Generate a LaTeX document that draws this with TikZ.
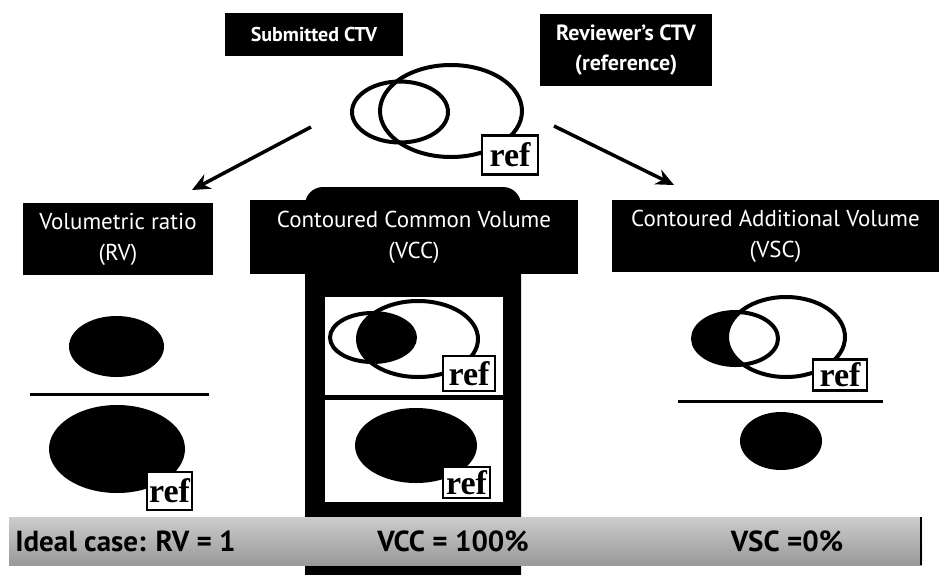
\documentclass[tikz,border=0pt]{standalone}
\usepackage{fontspec}
\setmainfont{PT Sans}
\newfontfamily\reffont{Liberation Serif}
\usetikzlibrary{arrows.meta}

\begin{document}
\begin{tikzpicture}[x=1pt, y=-1pt, line width=4pt,
  head/.style={fill=black, text=white, align=center, inner sep=0pt,
    font=\fontsize{23}{31}\selectfont},
  boldhead/.style={head, font=\bfseries\fontsize{20}{29}\selectfont},
  refbox/.style={draw, line width=2.5pt, fill=white, inner sep=0pt,
    minimum width=52pt, minimum height=35pt,
    font=\reffont\bfseries\fontsize{34}{34}\selectfont},
  arrow/.style={-{Stealth[length=18pt,width=16pt]}, line width=3.5pt},
  result/.style={font=\bfseries\fontsize{29}{29}\selectfont}]
  \useasboundingbox (0,0) rectangle (939,574);

  % titles and the two contours
  \node[boldhead, minimum width=178pt, minimum height=43pt] (sub) at (314,34.5) {Submitted CTV};
  \node[boldhead, minimum width=172pt, minimum height=72pt,
        font=\bfseries\fontsize{22}{30}\selectfont] (rev) at (626,50) {Reviewer’s CTV\\(reference)};
  \draw (400,112) ellipse [x radius=48, y radius=30.5];
  \draw (451,111) ellipse [x radius=71, y radius=46];
  \node[refbox, minimum width=56pt, minimum height=39pt] (ref0) at (510,155) {ref};

  % black column behind the VCC panels
  \fill[rounded corners=18pt] (305,187) rectangle (521,600);

  % second row headers
  \node[head, minimum width=190pt, minimum height=72pt] (rv)  at (118,239)   {Volumetric ratio\\(RV)};
  \node[head, minimum width=328pt, minimum height=74pt] (vcc) at (414,237)   {Contoured Common Volume\\(VCC)};
  \node[head, minimum width=327pt, minimum height=72pt] (vsc) at (775.5,236) {Contoured Additional Volume\\(VSC)};

  \coordinate (l1) at (311,127);
  \coordinate (r1) at (554,126);
  \draw[arrow] (l1) -- (192,190) coordinate (l2);
  \draw[arrow] (r1) -- (674,185) coordinate (r2);

  % RV
  \fill (116.5,346.5) ellipse [x radius=47.5, y radius=30.5];
  \draw[line width=3pt] (30,394) -- (209,394);
  \fill (117,449) ellipse [x radius=68, y radius=44];
  \node[refbox, minimum width=45pt, minimum height=38pt] (ref1) at (169.5,491) {ref};

  % VCC
  \fill[white] (325,297) rectangle (503,395);
  \fill[white] (325,400) rectangle (503,502);
  \begin{scope}
    \clip (372.5,337.5) ellipse [x radius=42.5, y radius=24.5];
    \fill (418,339) ellipse [x radius=60, y radius=38];
  \end{scope}
  \draw (372.5,337.5) ellipse [x radius=42.5, y radius=24.5];
  \draw (418,339) ellipse [x radius=60, y radius=38];
  \node[refbox] (ref2) at (469,373.5) {ref};
  \fill (416,445.5) ellipse [x radius=61, y radius=37.5];
  \node[refbox, minimum width=47pt, minimum height=31pt] (ref3) at (466.5,482.5) {ref};

  % VSC
  \fill (735.5,338.5) ellipse [x radius=42.5, y radius=26.5];
  \begin{scope}
    \clip (735.5,338.5) ellipse [x radius=42.5, y radius=26.5];
    \fill[white] (786,337) ellipse [x radius=59, y radius=40];
  \end{scope}
  \draw (735.5,338.5) ellipse [x radius=42.5, y radius=26.5];
  \draw (786,337) ellipse [x radius=59, y radius=40];
  \node[refbox, minimum width=54pt, minimum height=31pt] (ref4) at (840,375) {ref};
  \draw[line width=3pt] (678,401) -- (883,401);
  \fill (781,441) ellipse [x radius=41, y radius=29];

  % ideal case band
  \shade[top color=gray!40, bottom color=gray!80] (9,517) rectangle (922,565);
  \draw[line width=2pt] (921,517) -- (921,565);
  \node[result, anchor=west] (rvres)  at (10,541)  {Ideal case: RV = 1};
  \node[result]              (vccres) at (453,541) {VCC = 100\%};
  \node[result]              (vscres) at (787,541) {VSC =0\%};
\end{tikzpicture}
\end{document}
